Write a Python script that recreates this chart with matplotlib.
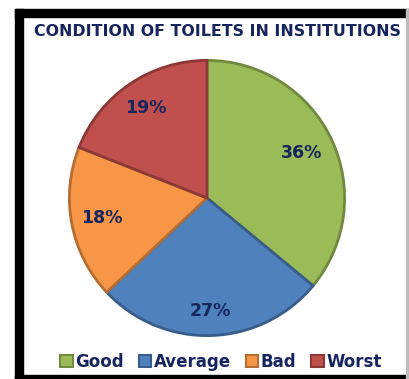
import numpy as np
import matplotlib
matplotlib.use("Agg")
import matplotlib.pyplot as plt
from matplotlib.patches import Rectangle, Patch

labels = ["Good", "Average", "Bad", "Worst"]
values = [36, 27, 18, 19]
colors = ["#9BBB59", "#4F81BD", "#F79646", "#C0504D"]
edges = ["#71893F", "#385D8A", "#B66D31", "#8C3836"]
navy = "#17255E"
label_dist = [0.76, 0.82, 0.78, 0.79]

W, H = 410, 379
fig = plt.figure(figsize=(W / 100, H / 100), dpi=100)

# frame around the chart
fig.patches.append(Rectangle((15 / W, 1 - 17 / H), 1 - 15 / W, 8 / H, transform=fig.transFigure, color="black"))
fig.patches.append(Rectangle((15 / W, 0), 8 / W, 1 - 9 / H, transform=fig.transFigure, color="black"))
fig.patches.append(Rectangle((15 / W, 0), 1 - 15 / W, 4 / H, transform=fig.transFigure, color="black"))
fig.patches.append(Rectangle((406 / W, 0), 2 / W, 1 - 9 / H, transform=fig.transFigure, color="#BBBBBB"))

fig.text(217 / W, 1 - 32 / H, "CONDITION OF TOILETS IN INSTITUTIONS", ha="center", va="center",
         fontsize=11.4, fontweight="bold", color=navy, family="DejaVu Sans")

cx, cy, r = 207, 198, 139
ax = fig.add_axes([(cx - r) / W, (H - cy - r) / H, 2 * r / W, 2 * r / H])
wedges, texts = ax.pie(values, colors=colors, startangle=90, counterclock=False,
                       wedgeprops=dict(linewidth=2))
for w, e, v, d in zip(wedges, edges, values, label_dist):
    w.set_edgecolor(e)
    ang = np.deg2rad((w.theta1 + w.theta2) / 2)
    ax.text(d * np.cos(ang), d * np.sin(ang), "%d%%" % v, ha="center", va="center",
            fontsize=12.5, fontweight="bold", color=navy)
ax.set_xlim(-1.01, 1.01)
ax.set_ylim(-1.01, 1.01)

handles = [Patch(facecolor=c, edgecolor=e, linewidth=1.5) for c, e in zip(colors, edges)]
fig.legend(handles, labels, loc="center", bbox_to_anchor=(221 / W, 1 - 362 / H), ncol=4, frameon=False,
           handlelength=0.75, handleheight=0.75, handletextpad=0.15, columnspacing=0.9,
           prop=dict(weight="bold", size=12), labelcolor=navy)

fig.savefig("out.png", dpi=100)
